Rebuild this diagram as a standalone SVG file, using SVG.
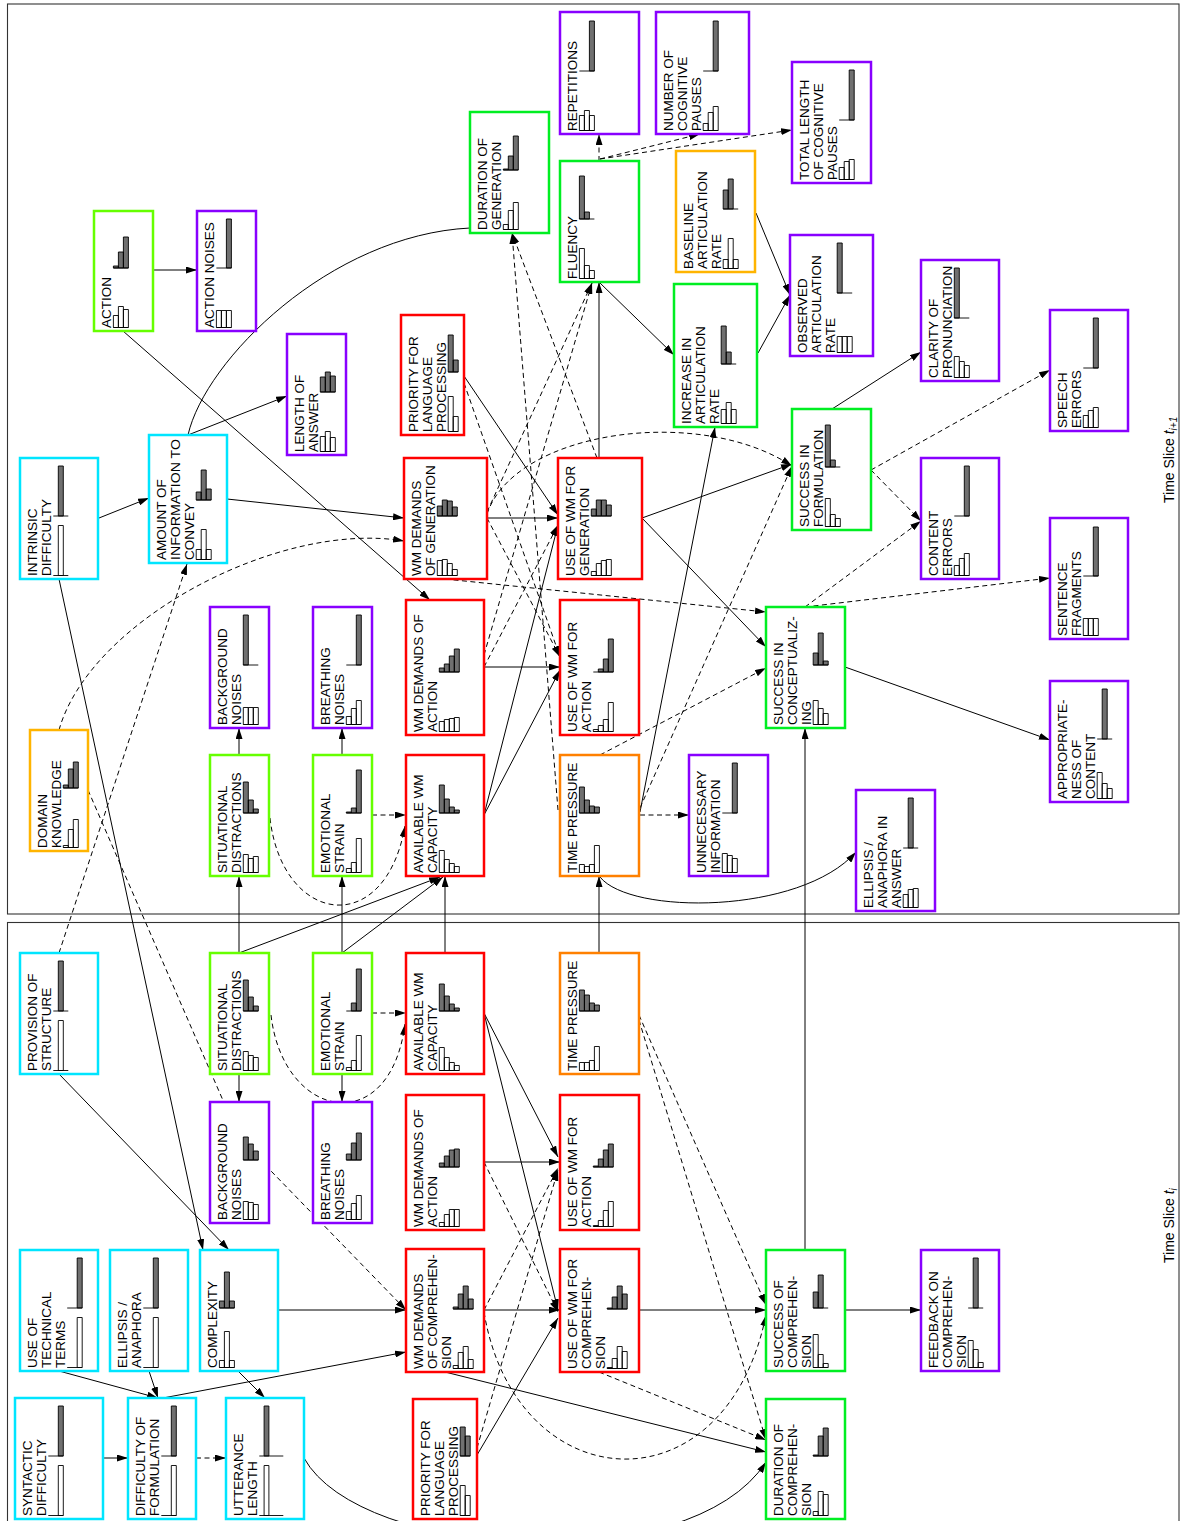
<svg xmlns="http://www.w3.org/2000/svg" width="1191" height="1521" viewBox="0 0 1191 1521">
<style>
.t{font-family:"Liberation Sans",Arial,sans-serif;font-size:13.5px;fill:#000}
.lab{font-family:"Liberation Sans",Arial,sans-serif;font-size:14px;fill:#000}
rect.n{fill:#fff;stroke-width:2.5}
.cy{stroke:#00e5ff}.li{stroke:#66ff00}.gr{stroke:#00ee22}.pu{stroke:#8800ff}.re{stroke:#ff0000}.or{stroke:#ff8000}.am{stroke:#ffb400}
path.d{fill:#707070;stroke:#000;stroke-width:0.9}
path.w{fill:#fff;stroke:#000;stroke-width:0.9}
.s{fill:none;stroke:#000;stroke-width:1;marker-end:url(#a)}
.ds{fill:none;stroke:#000;stroke-width:1;stroke-dasharray:5 3.5;marker-end:url(#a)}
.s0{fill:none;stroke:#000;stroke-width:1}
.fr{fill:none;stroke:#333;stroke-width:1.1}
</style>
<defs>
<marker id="a" markerWidth="11" markerHeight="7" refX="11" refY="3.5" orient="auto" markerUnits="userSpaceOnUse"><path d="M0,0L11,3.5L0,7z" fill="#000"/></marker>
</defs>
<rect width="1191" height="1521" fill="#fff"/>
<g id="frames">
<rect class="fr" x="7.5" y="4" width="1171.5" height="910"/>
<rect class="fr" x="7.5" y="922.5" width="1171.5" height="640"/>
<text class="lab" transform="translate(1174,503) rotate(-90)">Time Slice <tspan font-style="italic">t</tspan><tspan font-style="italic" font-size="10" dy="3">i+1</tspan></text>
<text class="lab" transform="translate(1174,1263) rotate(-90)">Time Slice <tspan font-style="italic">t</tspan><tspan font-style="italic" font-size="10" dy="3">i</tspan></text>
</g>
<g id="connectors">
<path class="s" d="M153,270L197,270"/>
<path class="s" d="M123,331L430,600"/>
<path class="s" d="M188,435L287,396"/>
<path class="s0" d="M188,435C205,360 330,235 470,228"/>
<path class="s" d="M99,518L149,498"/>
<path class="s" d="M227,499L404,518"/>
<path class="s" d="M59,579L203,1250"/>
<path class="ds" d="M59,730C90,620 280,520 404,541"/>
<path class="ds" d="M59,953L187,564"/>
<path class="ds" d="M88,790L225,1105Q245,1150 271,1171L406,1310"/>
<path class="ds" d="M270,818C282,925 385,940 405,826"/>
<path class="ds" d="M372,815L406,815"/>
<path class="s" d="M239,755L239,728"/>
<path class="s" d="M342,755L342,728"/>
<path class="s" d="M239,953L239,876"/>
<path class="s" d="M342,953L342,876"/>
<path class="s" d="M239,953L440,877"/>
<path class="s" d="M342,953L443,877"/>
<path class="s" d="M445,953L445,876"/>
<path class="s" d="M599,953L599,876"/>
<path class="s" d="M805,1250L805,728"/>
<path class="s" d="M484,815L558,525"/>
<path class="s" d="M484,815L560,670"/>
<path class="s" d="M484,667L560,667"/>
<path class="ds" d="M484,667L558,525"/>
<path class="s" d="M487,518L558,518"/>
<path class="ds" d="M487,518L560,657"/>
<path class="s" d="M464,376L558,515"/>
<path class="ds" d="M464,383L560,657"/>
<path class="ds" d="M558,810L512,233"/>
<path class="ds" d="M597,458L512,233"/>
<path class="ds" d="M487,512L592,283"/>
<path class="ds" d="M484,655L592,283"/>
<path class="s" d="M599,458L599,282"/>
<path class="ds" d="M599,161L599,134"/>
<path class="ds" d="M600,159L700,134"/>
<path class="ds" d="M600,159L792,130"/>
<path class="s" d="M600,283L674,355"/>
<path class="s" d="M756,213L790,295"/>
<path class="s" d="M758,353L790,295"/>
<path class="s" d="M640,812L715,427"/>
<path class="ds" d="M640,815L689,815"/>
<path class="ds" d="M640,808L792,466"/>
<path class="ds" d="M600,755L766,668"/>
<path class="s" d="M600,877C630,915 800,915 856,852"/>
<path class="s" d="M642,518L792,464"/>
<path class="s" d="M642,518L766,647"/>
<path class="ds" d="M487,514C515,430 700,405 792,466"/>
<path class="ds" d="M445,579L766,612"/>
<path class="s" d="M832,409L921,352"/>
<path class="ds" d="M871,470L1050,370"/>
<path class="ds" d="M871,470L921,521"/>
<path class="ds" d="M805,607L921,521"/>
<path class="ds" d="M805,607L1050,578"/>
<path class="s" d="M845,667L1050,740"/>
<path class="s" d="M239,1074L239,1102"/>
<path class="s" d="M342,1074L342,1102"/>
<path class="ds" d="M372,1013L406,1013"/>
<path class="ds" d="M271,1015C283,1120 390,1140 405,1024"/>
<path class="s" d="M59,1074L229,1250"/>
<path class="s" d="M484,1013L558,1157"/>
<path class="s" d="M484,1013L558,1310"/>
<path class="s" d="M484,1162L560,1162"/>
<path class="ds" d="M484,1162L558,1312"/>
<path class="s" d="M484,1310L560,1310"/>
<path class="ds" d="M484,1310L558,1168"/>
<path class="s" d="M477,1455L558,1318"/>
<path class="ds" d="M477,1448L558,1170"/>
<path class="ds" d="M484,1312C515,1500 725,1515 766,1315"/>
<path class="s" d="M639,1310L766,1310"/>
<path class="ds" d="M599,1372L766,1440"/>
<path class="s" d="M445,1372L766,1452"/>
<path class="s" d="M304,1458C360,1560 690,1580 766,1462"/>
<path class="ds" d="M639,1015L766,1305"/>
<path class="ds" d="M639,1020L766,1440"/>
<path class="s" d="M845,1310L921,1310"/>
<path class="s" d="M163,1398L406,1352"/>
<path class="s" d="M278,1310L406,1310"/>
<path class="s" d="M238,1371L265,1398"/>
<path class="s" d="M59,1371L158,1398"/>
<path class="s" d="M149,1371L158,1398"/>
<path class="s" d="M103,1458L128,1458"/>
<path class="ds" d="M196,1458L226,1458"/>
</g>
<g id="nodes">
<g id="n-action"><rect class="n li" x="94" y="211" width="59" height="120"/><text class="t" transform="translate(111,328) rotate(-90)"><tspan x="0" y="0">ACTION</tspan></text><path class="d" transform="translate(113.4,268)" d="M0,0h15M0,0v-2h5v2zM5,0v-16h5v16zM10,0v-31h5v31z"/><path class="w" transform="translate(113.4,327.5)" d="M0,0h15M0,0v-12h5v12zM5,0v-21h5v21zM10,0v-18h5v18z"/></g>
<g id="n-action-noises"><rect class="n pu" x="197" y="211" width="59" height="120"/><text class="t" transform="translate(214,328) rotate(-90)"><tspan x="0" y="0">ACTION NOISES</tspan></text><path class="d" transform="translate(216.4,268)" d="M0,0h15M10,0v-49h5v49z"/><path class="w" transform="translate(216.4,327.5)" d="M0,0h15M0,0v-17h5v17zM5,0v-17h5v17zM10,0v-17h5v17z"/></g>
<g id="n-length-of-answer"><rect class="n pu" x="287" y="334" width="59" height="121"/><text class="t" transform="translate(304,452) rotate(-90)"><tspan x="0" y="0">LENGTH OF</tspan><tspan x="0" y="13.8">ANSWER</tspan></text><path class="d" transform="translate(320.3,392)" d="M0,0h15M0,0v-15h5v15zM5,0v-20h5v20zM10,0v-16h5v16z"/><path class="w" transform="translate(320.3,451.5)" d="M0,0h15M0,0v-15h5v15zM5,0v-20h5v20zM10,0v-14h5v14z"/></g>
<g id="n-intrinsic-difficulty"><rect class="n cy" x="20" y="458" width="78" height="121"/><text class="t" transform="translate(37,576) rotate(-90)"><tspan x="0" y="0">INTRINSIC</tspan><tspan x="0" y="13.8">DIFFICULTY</tspan></text><path class="d" transform="translate(53.3,516)" d="M0,0h15M5,0v-50h5v50z"/><path class="w" transform="translate(53.3,575.5)" d="M0,0h15M5,0v-50h5v50z"/></g>
<g id="n-amount-of-information"><rect class="n cy" x="149" y="435" width="78" height="128"/><text class="t" transform="translate(166,560) rotate(-90)"><tspan x="0" y="0">AMOUNT OF</tspan><tspan x="0" y="13.8" textLength="121" lengthAdjust="spacingAndGlyphs">INFORMATION TO</tspan><tspan x="0" y="27.6">CONVEY</tspan></text><path class="d" transform="translate(196.2,500)" d="M0,0h15M0,0v-8h5v8zM5,0v-30h5v30zM10,0v-11h5v11z"/><path class="w" transform="translate(196.2,559.5)" d="M0,0h15M0,0v-10h5v10zM5,0v-30h5v30zM10,0v-10h5v10z"/></g>
<g id="n-domain-knowledge"><rect class="n am" x="30" y="730" width="58" height="121"/><text class="t" transform="translate(47,848) rotate(-90)"><tspan x="0" y="0">DOMAIN</tspan><tspan x="0" y="13.8">KNOWLEDGE</tspan></text><path class="d" transform="translate(63.3,788)" d="M0,0h15M0,0v-3h5v3zM5,0v-19h5v19zM10,0v-26h5v26z"/><path class="w" transform="translate(63.3,847.5)" d="M0,0h15M0,0v-2h5v2zM5,0v-18h5v18zM10,0v-28h5v28z"/></g>
<g id="n-background-noises-t1"><rect class="n pu" x="210" y="607" width="59" height="121"/><text class="t" transform="translate(227,725) rotate(-90)"><tspan x="0" y="0">BACKGROUND</tspan><tspan x="0" y="13.8">NOISES</tspan></text><path class="d" transform="translate(243.3,665)" d="M0,0h15M0,0v-50h5v50z"/><path class="w" transform="translate(243.3,724.5)" d="M0,0h15M0,0v-17h5v17zM5,0v-17h5v17zM10,0v-17h5v17z"/></g>
<g id="n-breathing-noises-t1"><rect class="n pu" x="313" y="607" width="59" height="121"/><text class="t" transform="translate(330,725) rotate(-90)"><tspan x="0" y="0">BREATHING</tspan><tspan x="0" y="13.8">NOISES</tspan></text><path class="d" transform="translate(346.3,665)" d="M0,0h15M10,0v-50h5v50z"/><path class="w" transform="translate(346.3,724.5)" d="M0,0h15M0,0v-8h5v8zM5,0v-16h5v16zM10,0v-24h5v24z"/></g>
<g id="n-situational-distractions-t1"><rect class="n li" x="210" y="755" width="59" height="121"/><text class="t" transform="translate(227,873) rotate(-90)"><tspan x="0" y="0">SITUATIONAL</tspan><tspan x="0" y="13.8">DISTRACTIONS</tspan></text><path class="d" transform="translate(243.3,813)" d="M0,0h15M0,0v-31h5v31zM5,0v-13h5v13zM10,0v-4h5v4z"/><path class="w" transform="translate(243.3,872.5)" d="M0,0h15M0,0v-18h5v18zM5,0v-14h5v14zM10,0v-16h5v16z"/></g>
<g id="n-emotional-strain-t1"><rect class="n li" x="313" y="755" width="59" height="121"/><text class="t" transform="translate(330,873) rotate(-90)"><tspan x="0" y="0">EMOTIONAL</tspan><tspan x="0" y="13.8">STRAIN</tspan></text><path class="d" transform="translate(346.3,813)" d="M0,0h15M0,0v-1h5v1zM5,0v-5h5v5zM10,0v-43h5v43z"/><path class="w" transform="translate(346.3,872.5)" d="M0,0h15M0,0v-4h5v4zM5,0v-10h5v10zM10,0v-34h5v34z"/></g>
<g id="n-available-wm-t1"><rect class="n re" x="406" y="755" width="78" height="121"/><text class="t" transform="translate(423,873) rotate(-90)"><tspan x="0" y="0">AVAILABLE WM</tspan><tspan x="0" y="13.8">CAPACITY</tspan></text><path class="d" transform="translate(439.3,813)" d="M0,0h20M0,0v-28h5v28zM5,0v-14h5v14zM10,0v-6h5v6zM15,0v-3h5v3z"/><path class="w" transform="translate(439.3,872.5)" d="M0,0h20M0,0v-22h5v22zM5,0v-13h5v13zM10,0v-9h5v9zM15,0v-6h5v6z"/></g>
<g id="n-wm-demands-action-t1"><rect class="n re" x="406" y="600" width="78" height="135"/><text class="t" transform="translate(423,732) rotate(-90)"><tspan x="0" y="0">WM DEMANDS OF</tspan><tspan x="0" y="13.8">ACTION</tspan></text><path class="d" transform="translate(439.3,672)" d="M0,0h20M0,0v-4h5v4zM5,0v-8h5v8zM10,0v-16h5v16zM15,0v-23h5v23z"/><path class="w" transform="translate(439.3,731.5)" d="M0,0h20M0,0v-10h5v10zM5,0v-12h5v12zM10,0v-13h5v13zM15,0v-14h5v14z"/></g>
<g id="n-wm-demands-generation"><rect class="n re" x="404" y="458" width="83" height="121"/><text class="t" transform="translate(421,576) rotate(-90)"><tspan x="0" y="0">WM DEMANDS</tspan><tspan x="0" y="13.8">OF GENERATION</tspan></text><path class="d" transform="translate(437.3,516)" d="M0,0h20M0,0v-10h5v10zM5,0v-16h5v16zM10,0v-15h5v15zM15,0v-9h5v9z"/><path class="w" transform="translate(437.3,575.5)" d="M0,0h20M0,0v-15h5v15zM5,0v-16h5v16zM10,0v-12h5v12zM15,0v-6h5v6z"/></g>
<g id="n-use-wm-generation"><rect class="n re" x="558" y="458" width="84" height="121"/><text class="t" transform="translate(575,576) rotate(-90)"><tspan x="0" y="0">USE OF WM FOR</tspan><tspan x="0" y="13.8">GENERATION</tspan></text><path class="d" transform="translate(591.3,516)" d="M0,0h20M0,0v-7h5v7zM5,0v-16h5v16zM10,0v-16h5v16zM15,0v-11h5v11z"/><path class="w" transform="translate(591.3,575.5)" d="M0,0h20M0,0v-4h5v4zM5,0v-12h5v12zM10,0v-15h5v15zM15,0v-16h5v16z"/></g>
<g id="n-use-wm-action-t1"><rect class="n re" x="560" y="600" width="79" height="135"/><text class="t" transform="translate(577,732) rotate(-90)"><tspan x="0" y="0">USE OF WM FOR</tspan><tspan x="0" y="13.8">ACTION</tspan></text><path class="d" transform="translate(593.3,672)" d="M0,0h20M5,0v-3h5v3zM10,0v-13h5v13zM15,0v-33h5v33z"/><path class="w" transform="translate(593.3,731.5)" d="M0,0h20M0,0v-2h5v2zM5,0v-6h5v6zM10,0v-12h5v12zM15,0v-29h5v29z"/></g>
<g id="n-time-pressure-t1"><rect class="n or" x="560" y="755" width="79" height="121"/><text class="t" transform="translate(577,873) rotate(-90)"><tspan x="0" y="0">TIME PRESSURE</tspan></text><path class="d" transform="translate(579.4,813)" d="M0,0h20M0,0v-26h5v26zM5,0v-13h5v13zM10,0v-7h5v7zM15,0v-6h5v6z"/><path class="w" transform="translate(579.4,872.5)" d="M0,0h20M0,0v-8h5v8zM5,0v-6h5v6zM10,0v-8h5v8zM15,0v-27h5v27z"/></g>
<g id="n-unnecessary-information"><rect class="n pu" x="689" y="755" width="79" height="121"/><text class="t" transform="translate(706,873) rotate(-90)"><tspan x="0" y="0">UNNECESSARY</tspan><tspan x="0" y="13.8">INFORMATION</tspan></text><path class="d" transform="translate(722.3,813)" d="M0,0h15M10,0v-50h5v50z"/><path class="w" transform="translate(722.3,872.5)" d="M0,0h15M0,0v-19h5v19zM5,0v-17h5v17zM10,0v-14h5v14z"/></g>
<g id="n-success-conceptualizing"><rect class="n gr" x="766" y="607" width="79" height="121"/><text class="t" transform="translate(783,725) rotate(-90)"><tspan x="0" y="0">SUCCESS IN</tspan><tspan x="0" y="13.8">CONCEPTUALIZ-</tspan><tspan x="0" y="27.6">ING</tspan></text><path class="d" transform="translate(813.2,665)" d="M0,0h15M0,0v-12h5v12zM5,0v-32h5v32zM10,0v-4h5v4z"/><path class="w" transform="translate(813.2,724.5)" d="M0,0h15M0,0v-24h5v24zM5,0v-16h5v16zM10,0v-11h5v11z"/></g>
<g id="n-ellipsis-answer"><rect class="n pu" x="856" y="790" width="79" height="121"/><text class="t" transform="translate(873,908) rotate(-90)"><tspan x="0" y="0">ELLIPSIS /</tspan><tspan x="0" y="13.8">ANAPHORA IN</tspan><tspan x="0" y="27.6">ANSWER</tspan></text><path class="d" transform="translate(903.2,848)" d="M0,0h15M5,0v-50h5v50z"/><path class="w" transform="translate(903.2,907.5)" d="M0,0h15M0,0v-13h5v13zM5,0v-18h5v18zM10,0v-19h5v19z"/></g>
<g id="n-appropriateness"><rect class="n pu" x="1050" y="681" width="78" height="121"/><text class="t" transform="translate(1067,799) rotate(-90)"><tspan x="0" y="0">APPROPRIATE-</tspan><tspan x="0" y="13.8">NESS OF</tspan><tspan x="0" y="27.6">CONTENT</tspan></text><path class="d" transform="translate(1097.2,739)" d="M0,0h15M5,0v-50h5v50z"/><path class="w" transform="translate(1097.2,798.5)" d="M0,0h15M0,0v-26h5v26zM5,0v-15h5v15zM10,0v-10h5v10z"/></g>
<g id="n-sentence-fragments"><rect class="n pu" x="1050" y="518" width="78" height="121"/><text class="t" transform="translate(1067,636) rotate(-90)"><tspan x="0" y="0">SENTENCE</tspan><tspan x="0" y="13.8">FRAGMENTS</tspan></text><path class="d" transform="translate(1083.3,576)" d="M0,0h15M10,0v-49h5v49z"/><path class="w" transform="translate(1083.3,635.5)" d="M0,0h15M0,0v-17h5v17zM5,0v-17h5v17zM10,0v-17h5v17z"/></g>
<g id="n-content-errors"><rect class="n pu" x="921" y="458" width="78" height="121"/><text class="t" transform="translate(938,576) rotate(-90)"><tspan x="0" y="0">CONTENT</tspan><tspan x="0" y="13.8">ERRORS</tspan></text><path class="d" transform="translate(954.3,516)" d="M0,0h15M10,0v-50h5v50z"/><path class="w" transform="translate(954.3,575.5)" d="M0,0h15M0,0v-10h5v10zM5,0v-17h5v17zM10,0v-22h5v22z"/></g>
<g id="n-success-formulation"><rect class="n gr" x="792" y="409" width="79" height="121"/><text class="t" transform="translate(809,527) rotate(-90)"><tspan x="0" y="0">SUCCESS IN</tspan><tspan x="0" y="13.8">FORMULATION</tspan></text><path class="d" transform="translate(825.3,467)" d="M0,0h15M0,0v-42h5v42zM5,0v-7h5v7z"/><path class="w" transform="translate(825.3,526.5)" d="M0,0h15M0,0v-28h5v28zM5,0v-12h5v12zM10,0v-8h5v8z"/></g>
<g id="n-speech-errors"><rect class="n pu" x="1050" y="310" width="78" height="121"/><text class="t" transform="translate(1067,428) rotate(-90)"><tspan x="0" y="0">SPEECH</tspan><tspan x="0" y="13.8">ERRORS</tspan></text><path class="d" transform="translate(1083.3,368)" d="M0,0h15M10,0v-50h5v50z"/><path class="w" transform="translate(1083.3,427.5)" d="M0,0h15M0,0v-12h5v12zM5,0v-17h5v17zM10,0v-20h5v20z"/></g>
<g id="n-clarity"><rect class="n pu" x="921" y="260" width="78" height="121"/><text class="t" transform="translate(938,378) rotate(-90)"><tspan x="0" y="0">CLARITY OF</tspan><tspan x="0" y="13.8">PRONUNCIATION</tspan></text><path class="d" transform="translate(954.3,318)" d="M0,0h15M0,0v-50h5v50z"/><path class="w" transform="translate(954.3,377.5)" d="M0,0h15M0,0v-21h5v21zM5,0v-16h5v16zM10,0v-12h5v12z"/></g>
<g id="n-observed-ar"><rect class="n pu" x="790" y="235" width="83" height="121"/><text class="t" transform="translate(807,353) rotate(-90)"><tspan x="0" y="0">OBSERVED</tspan><tspan x="0" y="13.8">ARTICULATION</tspan><tspan x="0" y="27.6">RATE</tspan></text><path class="d" transform="translate(837.2,293)" d="M0,0h15M0,0v-50h5v50z"/><path class="w" transform="translate(837.2,352.5)" d="M0,0h15M0,0v-16h5v16zM5,0v-16h5v16zM10,0v-16h5v16z"/></g>
<g id="n-total-length"><rect class="n pu" x="792" y="62" width="79" height="121"/><text class="t" transform="translate(809,180) rotate(-90)"><tspan x="0" y="0">TOTAL LENGTH</tspan><tspan x="0" y="13.8">OF COGNITIVE</tspan><tspan x="0" y="27.6">PAUSES</tspan></text><path class="d" transform="translate(839.2,120)" d="M0,0h15M10,0v-50h5v50z"/><path class="w" transform="translate(839.2,179.5)" d="M0,0h15M0,0v-12h5v12zM5,0v-18h5v18zM10,0v-20h5v20z"/></g>
<g id="n-repetitions"><rect class="n pu" x="560" y="12" width="79" height="122"/><text class="t" transform="translate(577,131) rotate(-90)"><tspan x="0" y="0">REPETITIONS</tspan></text><path class="d" transform="translate(579.4,71)" d="M0,0h15M10,0v-50h5v50z"/><path class="w" transform="translate(579.4,130.5)" d="M0,0h15M0,0v-15h5v15zM5,0v-20h5v20zM10,0v-15h5v15z"/></g>
<g id="n-number-pauses"><rect class="n pu" x="656" y="12" width="93" height="122"/><text class="t" transform="translate(673,131) rotate(-90)"><tspan x="0" y="0">NUMBER OF</tspan><tspan x="0" y="13.8">COGNITIVE</tspan><tspan x="0" y="27.6">PAUSES</tspan></text><path class="d" transform="translate(703.2,71)" d="M0,0h15M10,0v-50h5v50z"/><path class="w" transform="translate(703.2,130.5)" d="M0,0h15M0,0v-7h5v7zM5,0v-18h5v18zM10,0v-24h5v24z"/></g>
<g id="n-duration-generation"><rect class="n gr" x="470" y="112" width="79" height="121"/><text class="t" transform="translate(487,230) rotate(-90)"><tspan x="0" y="0">DURATION OF</tspan><tspan x="0" y="13.8">GENERATION</tspan></text><path class="d" transform="translate(503.3,170)" d="M0,0h15M0,0v-1h5v1zM5,0v-14h5v14zM10,0v-34h5v34z"/><path class="w" transform="translate(503.3,229.5)" d="M0,0h15M0,0v-5h5v5zM5,0v-19h5v19zM10,0v-27h5v27z"/></g>
<g id="n-fluency"><rect class="n gr" x="560" y="161" width="79" height="121"/><text class="t" transform="translate(577,279) rotate(-90)"><tspan x="0" y="0">FLUENCY</tspan></text><path class="d" transform="translate(579.4,219)" d="M0,0h15M0,0v-43h5v43zM5,0v-7h5v7z"/><path class="w" transform="translate(579.4,278.5)" d="M0,0h15M0,0v-30h5v30zM5,0v-13h5v13zM10,0v-8h5v8z"/></g>
<g id="n-baseline-ar"><rect class="n am" x="676" y="151" width="79" height="121"/><text class="t" transform="translate(693,269) rotate(-90)"><tspan x="0" y="0">BASELINE</tspan><tspan x="0" y="13.8">ARTICULATION</tspan><tspan x="0" y="27.6">RATE</tspan></text><path class="d" transform="translate(723.2,209)" d="M0,0h15M0,0v-19h5v19zM5,0v-30h5v30z"/><path class="w" transform="translate(723.2,268.5)" d="M0,0h15M0,0v-9h5v9zM5,0v-30h5v30zM10,0v-9h5v9z"/></g>
<g id="n-increase-ar"><rect class="n gr" x="674" y="284" width="83" height="143"/><text class="t" transform="translate(691,424) rotate(-90)"><tspan x="0" y="0">INCREASE IN</tspan><tspan x="0" y="13.8">ARTICULATION</tspan><tspan x="0" y="27.6">RATE</tspan></text><path class="d" transform="translate(721.2,364)" d="M0,0h15M0,0v-38h5v38zM5,0v-12h5v12z"/><path class="w" transform="translate(721.2,423.5)" d="M0,0h15M0,0v-14h5v14zM5,0v-21h5v21zM10,0v-14h5v14z"/></g>
<g id="n-priority-t1"><rect class="n re" x="401" y="315" width="63" height="120"/><text class="t" transform="translate(418,432) rotate(-90)"><tspan x="0" y="0">PRIORITY FOR</tspan><tspan x="0" y="13.8">LANGUAGE</tspan><tspan x="0" y="27.6">PROCESSING</tspan></text><path class="d" transform="translate(448.2,372)" d="M0,0h10M0,0v-37h5v37zM5,0v-12h5v12z"/><path class="w" transform="translate(448.2,431.5)" d="M0,0h10M0,0v-35h5v35zM5,0v-15h5v15z"/></g>
<g id="n-provision-structure"><rect class="n cy" x="20" y="953" width="78" height="121"/><text class="t" transform="translate(37,1071) rotate(-90)"><tspan x="0" y="0">PROVISION OF</tspan><tspan x="0" y="13.8">STRUCTURE</tspan></text><path class="d" transform="translate(53.3,1011)" d="M0,0h15M5,0v-50h5v50z"/><path class="w" transform="translate(53.3,1070.5)" d="M0,0h15M5,0v-50h5v50z"/></g>
<g id="n-situational-distractions-t0"><rect class="n li" x="210" y="953" width="59" height="121"/><text class="t" transform="translate(227,1071) rotate(-90)"><tspan x="0" y="0">SITUATIONAL</tspan><tspan x="0" y="13.8">DISTRACTIONS</tspan></text><path class="d" transform="translate(243.3,1011)" d="M0,0h15M0,0v-31h5v31zM5,0v-14h5v14zM10,0v-5h5v5z"/><path class="w" transform="translate(243.3,1070.5)" d="M0,0h15M0,0v-19h5v19zM5,0v-15h5v15zM10,0v-13h5v13z"/></g>
<g id="n-emotional-strain-t0"><rect class="n li" x="313" y="953" width="59" height="121"/><text class="t" transform="translate(330,1071) rotate(-90)"><tspan x="0" y="0">EMOTIONAL</tspan><tspan x="0" y="13.8">STRAIN</tspan></text><path class="d" transform="translate(346.3,1011)" d="M0,0h15M5,0v-8h5v8zM10,0v-42h5v42z"/><path class="w" transform="translate(346.3,1070.5)" d="M0,0h15M0,0v-3h5v3zM5,0v-10h5v10zM10,0v-35h5v35z"/></g>
<g id="n-background-noises-t0"><rect class="n pu" x="210" y="1102" width="59" height="121"/><text class="t" transform="translate(227,1220) rotate(-90)"><tspan x="0" y="0">BACKGROUND</tspan><tspan x="0" y="13.8">NOISES</tspan></text><path class="d" transform="translate(243.3,1160)" d="M0,0h15M0,0v-23h5v23zM5,0v-16h5v16zM10,0v-9h5v9z"/><path class="w" transform="translate(243.3,1219.5)" d="M0,0h15M0,0v-18h5v18zM5,0v-17h5v17zM10,0v-15h5v15z"/></g>
<g id="n-breathing-noises-t0"><rect class="n pu" x="313" y="1102" width="59" height="121"/><text class="t" transform="translate(330,1220) rotate(-90)"><tspan x="0" y="0">BREATHING</tspan><tspan x="0" y="13.8">NOISES</tspan></text><path class="d" transform="translate(346.3,1160)" d="M0,0h15M0,0v-6h5v6zM5,0v-17h5v17zM10,0v-27h5v27z"/><path class="w" transform="translate(346.3,1219.5)" d="M0,0h15M0,0v-8h5v8zM5,0v-16h5v16zM10,0v-24h5v24z"/></g>
<g id="n-technical-terms"><rect class="n cy" x="20" y="1250" width="78" height="121"/><text class="t" transform="translate(37,1368) rotate(-90)"><tspan x="0" y="0">USE OF</tspan><tspan x="0" y="13.8">TECHNICAL</tspan><tspan x="0" y="27.6">TERMS</tspan></text><path class="d" transform="translate(67.2,1308)" d="M0,0h15M10,0v-50h5v50z"/><path class="w" transform="translate(67.2,1367.5)" d="M0,0h15M10,0v-50h5v50z"/></g>
<g id="n-ellipsis-anaphora"><rect class="n cy" x="110" y="1250" width="78" height="121"/><text class="t" transform="translate(127,1368) rotate(-90)"><tspan x="0" y="0">ELLIPSIS /</tspan><tspan x="0" y="13.8">ANAPHORA</tspan></text><path class="d" transform="translate(143.3,1308)" d="M0,0h15M10,0v-50h5v50z"/><path class="w" transform="translate(143.3,1367.5)" d="M0,0h15M10,0v-50h5v50z"/></g>
<g id="n-complexity"><rect class="n cy" x="200" y="1250" width="78" height="121"/><text class="t" transform="translate(217,1368) rotate(-90)"><tspan x="0" y="0">COMPLEXITY</tspan></text><path class="d" transform="translate(219.4,1308)" d="M0,0h15M0,0v-7h5v7zM5,0v-36h5v36zM10,0v-7h5v7z"/><path class="w" transform="translate(219.4,1367.5)" d="M0,0h15M0,0v-7h5v7zM5,0v-36h5v36zM10,0v-7h5v7z"/></g>
<g id="n-syntactic-difficulty"><rect class="n cy" x="15" y="1398" width="88" height="121"/><text class="t" transform="translate(32,1516) rotate(-90)"><tspan x="0" y="0">SYNTACTIC</tspan><tspan x="0" y="13.8">DIFFICULTY</tspan></text><path class="d" transform="translate(48.3,1456)" d="M0,0h15M10,0v-50h5v50z"/><path class="w" transform="translate(48.3,1515.5)" d="M0,0h15M10,0v-50h5v50z"/></g>
<g id="n-difficulty-formulation"><rect class="n cy" x="128" y="1398" width="68" height="121"/><text class="t" transform="translate(145,1516) rotate(-90)"><tspan x="0" y="0">DIFFICULTY OF</tspan><tspan x="0" y="13.8">FORMULATION</tspan></text><path class="d" transform="translate(161.3,1456)" d="M0,0h15M10,0v-50h5v50z"/><path class="w" transform="translate(161.3,1515.5)" d="M0,0h15M10,0v-50h5v50z"/></g>
<g id="n-utterance-length"><rect class="n cy" x="226" y="1398" width="78" height="121"/><text class="t" transform="translate(243,1516) rotate(-90)"><tspan x="0" y="0">UTTERANCE</tspan><tspan x="0" y="13.8">LENGTH</tspan></text><path class="d" transform="translate(259.3,1456)" d="M0,0h24M4.8,0v-50h4.8v50z"/><path class="w" transform="translate(259.3,1515.5)" d="M0,0h24M4.8,0v-50h4.8v50z"/></g>
<g id="n-available-wm-t0"><rect class="n re" x="406" y="953" width="78" height="121"/><text class="t" transform="translate(423,1071) rotate(-90)"><tspan x="0" y="0">AVAILABLE WM</tspan><tspan x="0" y="13.8">CAPACITY</tspan></text><path class="d" transform="translate(439.3,1011)" d="M0,0h20M0,0v-27h5v27zM5,0v-15h5v15zM10,0v-7h5v7zM15,0v-3h5v3z"/><path class="w" transform="translate(439.3,1070.5)" d="M0,0h20M0,0v-23h5v23zM5,0v-13h5v13zM10,0v-8h5v8zM15,0v-5h5v5z"/></g>
<g id="n-time-pressure-t0"><rect class="n or" x="560" y="953" width="79" height="121"/><text class="t" transform="translate(577,1071) rotate(-90)"><tspan x="0" y="0">TIME PRESSURE</tspan></text><path class="d" transform="translate(579.4,1011)" d="M0,0h20M0,0v-21h5v21zM5,0v-16h5v16zM10,0v-8h5v8zM15,0v-6h5v6z"/><path class="w" transform="translate(579.4,1070.5)" d="M0,0h20M0,0v-8h5v8zM5,0v-8h5v8zM10,0v-10h5v10zM15,0v-24h5v24z"/></g>
<g id="n-wm-demands-action-t0"><rect class="n re" x="406" y="1095" width="78" height="135"/><text class="t" transform="translate(423,1227) rotate(-90)"><tspan x="0" y="0">WM DEMANDS OF</tspan><tspan x="0" y="13.8">ACTION</tspan></text><path class="d" transform="translate(439.3,1167)" d="M0,0h20M0,0v-4h5v4zM5,0v-11h5v11zM10,0v-17h5v17zM15,0v-18h5v18z"/><path class="w" transform="translate(439.3,1226.5)" d="M0,0h20M0,0v-4h5v4zM5,0v-12h5v12zM10,0v-17h5v17zM15,0v-17h5v17z"/></g>
<g id="n-use-wm-action-t0"><rect class="n re" x="560" y="1095" width="79" height="135"/><text class="t" transform="translate(577,1227) rotate(-90)"><tspan x="0" y="0">USE OF WM FOR</tspan><tspan x="0" y="13.8">ACTION</tspan></text><path class="d" transform="translate(593.3,1167)" d="M0,0h20M0,0v-1h5v1zM5,0v-8h5v8zM10,0v-17h5v17zM15,0v-23h5v23z"/><path class="w" transform="translate(593.3,1226.5)" d="M0,0h20M0,0v-1h5v1zM5,0v-6h5v6zM10,0v-16h5v16zM15,0v-25h5v25z"/></g>
<g id="n-wm-demands-comprehension"><rect class="n re" x="406" y="1249" width="78" height="123"/><text class="t" transform="translate(423,1369) rotate(-90)"><tspan x="0" y="0">WM DEMANDS</tspan><tspan x="0" y="13.8">OF COMPREHEN-</tspan><tspan x="0" y="27.6">SION</tspan></text><path class="d" transform="translate(453.2,1309)" d="M0,0h20M0,0v-2h5v2zM5,0v-15h5v15zM10,0v-23h5v23zM15,0v-10h5v10z"/><path class="w" transform="translate(453.2,1368.5)" d="M0,0h20M0,0v-3h5v3zM5,0v-16h5v16zM10,0v-22h5v22zM15,0v-9h5v9z"/></g>
<g id="n-use-wm-comprehension"><rect class="n re" x="560" y="1249" width="79" height="123"/><text class="t" transform="translate(577,1369) rotate(-90)"><tspan x="0" y="0">USE OF WM FOR</tspan><tspan x="0" y="13.8">COMPREHEN-</tspan><tspan x="0" y="27.6">SION</tspan></text><path class="d" transform="translate(607.2,1309)" d="M0,0h20M0,0v-1h5v1zM5,0v-12h5v12zM10,0v-23h5v23zM15,0v-15h5v15z"/><path class="w" transform="translate(607.2,1368.5)" d="M0,0h20M0,0v-1h5v1zM5,0v-10h5v10zM10,0v-22h5v22zM15,0v-17h5v17z"/></g>
<g id="n-priority-t0"><rect class="n re" x="413" y="1399" width="64" height="120"/><text class="t" transform="translate(430,1516) rotate(-90)"><tspan x="0" y="0">PRIORITY FOR</tspan><tspan x="0" y="13.8">LANGUAGE</tspan><tspan x="0" y="27.6">PROCESSING</tspan></text><path class="d" transform="translate(460.2,1456)" d="M0,0h10M0,0v-29h5v29zM5,0v-20h5v20z"/><path class="w" transform="translate(460.2,1515.5)" d="M0,0h10M0,0v-30h5v30zM5,0v-20h5v20z"/></g>
<g id="n-success-comprehension"><rect class="n gr" x="766" y="1250" width="79" height="121"/><text class="t" transform="translate(783,1368) rotate(-90)"><tspan x="0" y="0">SUCCESS OF</tspan><tspan x="0" y="13.8">COMPREHEN-</tspan><tspan x="0" y="27.6">SION</tspan></text><path class="d" transform="translate(813.2,1308)" d="M0,0h15M0,0v-16h5v16zM5,0v-33h5v33z"/><path class="w" transform="translate(813.2,1367.5)" d="M0,0h15M0,0v-33h5v33zM5,0v-13h5v13zM10,0v-4h5v4z"/></g>
<g id="n-duration-comprehension"><rect class="n gr" x="766" y="1399" width="79" height="120"/><text class="t" transform="translate(783,1516) rotate(-90)"><tspan x="0" y="0">DURATION OF</tspan><tspan x="0" y="13.8">COMPREHEN-</tspan><tspan x="0" y="27.6">SION</tspan></text><path class="d" transform="translate(813.2,1456)" d="M0,0h15M0,0v-1h5v1zM5,0v-20h5v20zM10,0v-28h5v28z"/><path class="w" transform="translate(813.2,1515.5)" d="M0,0h15M0,0v-4h5v4zM5,0v-24h5v24zM10,0v-21h5v21z"/></g>
<g id="n-feedback-comprehension"><rect class="n pu" x="921" y="1250" width="78" height="121"/><text class="t" transform="translate(938,1368) rotate(-90)"><tspan x="0" y="0">FEEDBACK ON</tspan><tspan x="0" y="13.8">COMPREHEN-</tspan><tspan x="0" y="27.6">SION</tspan></text><path class="d" transform="translate(968.2,1308)" d="M0,0h15M5,0v-50h5v50z"/><path class="w" transform="translate(968.2,1367.5)" d="M0,0h15M0,0v-27h5v27zM5,0v-18h5v18zM10,0v-5h5v5z"/></g>
</g>
</svg>
